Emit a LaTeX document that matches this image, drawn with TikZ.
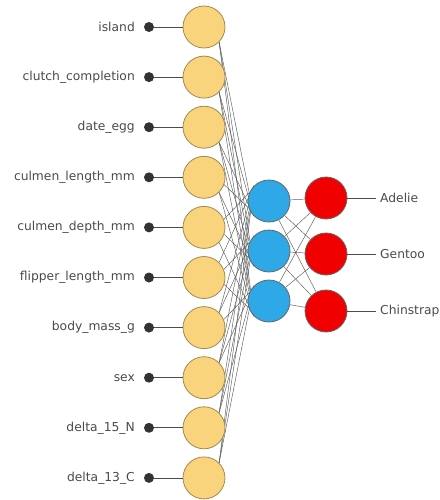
\documentclass[tikz,border=0pt]{standalone}
\usepackage{fontspec}
\setmainfont{DejaVu Sans}
\usetikzlibrary{backgrounds}
\definecolor{inyel}{HTML}{FAD47C}
\definecolor{inbord}{HTML}{A08A50}
\definecolor{hidblue}{HTML}{2EA8E6}
\definecolor{outred}{HTML}{F00000}
\definecolor{txt}{HTML}{4A4A4A}
\tikzset{
  neuron/.style={circle,draw=#1,line width=0.8pt,minimum size=42pt,inner sep=0pt},
  inneuron/.style={neuron=inbord,fill=inyel},
  hidneuron/.style={neuron=black!60,fill=hidblue},
  outneuron/.style={neuron=black!60,fill=outred},
  dot/.style={circle,fill=black!80,minimum size=10pt,inner sep=0pt},
  lab/.style={text=txt,font=\fontsize{12.3}{14}\selectfont,inner sep=0pt},
  conn/.style={draw=black!65,line width=0.45pt},
  wire/.style={draw=black!70,line width=0.8pt}
}
\begin{document}
\begin{tikzpicture}[x=1pt,y=-1pt]
\useasboundingbox (0,0) rectangle (439,500);
\foreach \n/\t [count=\i from 0] in {island/island,clutch/clutch\_completion,date/date\_egg,clen/culmen\_length\_mm,cdep/culmen\_depth\_mm,flip/flipper\_length\_mm,body/body\_mass\_g,sex/sex,dn/delta\_15\_N,dc/delta\_13\_C}{
  \pgfmathsetmacro{\yy}{27+50.1*\i}
  \node[inneuron] (in\i) at (204,\yy) {};
  \node[dot] (d\i) at (149,\yy) {};
  \node[lab,anchor=east] (l\i) at (135,\yy) {\t};
  \draw[wire] (d\i) -- (in\i);
}
\foreach \j/\yy in {0/201,1/251,2/301}{
  \node[hidneuron] (h\j) at (269,\yy) {};
}
\foreach \k/\yy/\t in {0/198/Adelie,1/254/Gentoo,2/311/Chinstrap}{
  \node[outneuron] (o\k) at (326,\yy) {};
  \coordinate (e\k) at (376,\yy);
  \node[lab,anchor=west] (t\k) at (380,\yy) {\t};
  \draw[wire] (o\k) -- (e\k);
}
\begin{scope}[on background layer]
\foreach \i in {0,...,9}{
  \foreach \j/\hy in {0/201,1/251,2/301}{
    \pgfmathsetmacro{\iy}{27+50.1*\i}
    \pgfmathsetmacro{\ang}{atan2(\iy-\hy,65)}
    \pgfmathsetmacro{\ca}{max(-45,min(45,\ang))}
    \pgfmathsetmacro{\cb}{180-\ca}
    \draw[conn] (in\i.\ca) -- (h\j.\cb);
  }
}
\foreach \j in {0,1,2}{
  \foreach \k in {0,1,2}{
    \draw[conn] (h\j) -- (o\k);
  }
}
\end{scope}
\end{tikzpicture}
\end{document}
